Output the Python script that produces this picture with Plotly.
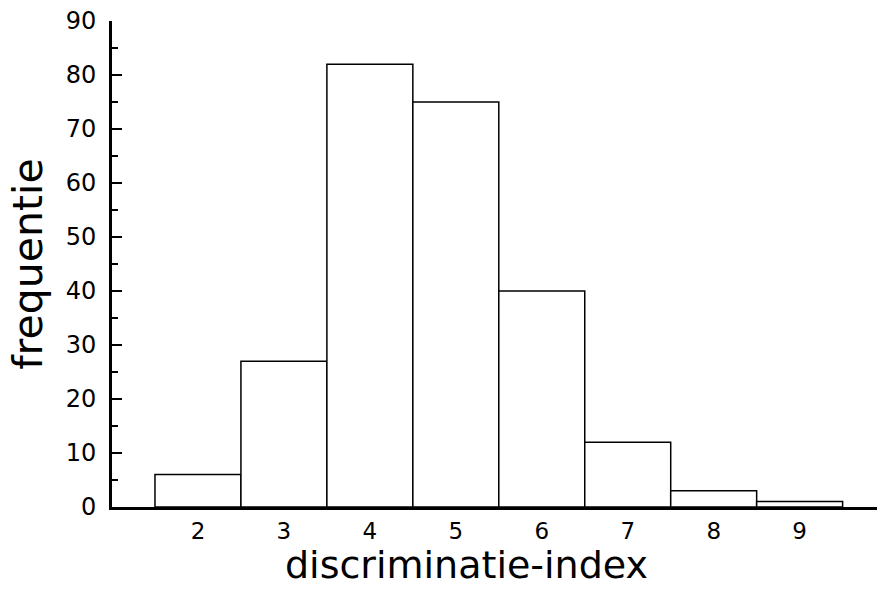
import plotly.graph_objects as go

# Frequency of each discrimination-index value
index_values = [2, 3, 4, 5, 6, 7, 8, 9]
frequencies = [6, 27, 82, 75, 40, 12, 3, 1]

y_ticks = [0, 10, 20, 30, 40, 50, 60, 70, 80, 90]

FONT = "DejaVu Sans"

fig = go.Figure(
    go.Bar(
        x=index_values,
        y=frequencies,
        width=1,
        marker=dict(color="white", line=dict(color="black", width=1.5)),
    )
)

fig.update_layout(
    width=877,
    height=589,
    margin=dict(l=112, r=0, t=21, b=82),
    plot_bgcolor="white",
    paper_bgcolor="white",
    showlegend=False,
    font=dict(family=FONT, color="black", size=23),
    xaxis=dict(
        range=[1, 9.9],
        tickvals=index_values,
        ticktext=[str(v) for v in index_values],
        showline=True,
        linecolor="black",
        linewidth=3,
        ticks="",
        showgrid=False,
        zeroline=False,
        ticklabelstandoff=1,
        tickfont=dict(family=FONT, size=23),
    ),
    yaxis=dict(
        range=[0, 90],
        tickvals=y_ticks,
        showline=True,
        linecolor="black",
        linewidth=3,
        ticks="inside",
        ticklen=10,
        tickwidth=2,
        tickcolor="black",
        minor=dict(dtick=5, ticks="inside", ticklen=6, tickwidth=2, tickcolor="black"),
        showgrid=False,
        zeroline=False,
        ticklabelstandoff=8,
        tickfont=dict(family=FONT, size=24),
    ),
    annotations=[
        dict(
            text="discriminatie-index",
            xref="paper", yref="paper",
            x=0.464, y=-0.12,
            xanchor="center", yanchor="middle",
            showarrow=False,
            font=dict(family=FONT, size=38, color="black"),
        ),
        dict(
            text="frequentie",
            xref="paper", yref="paper",
            x=-0.11, y=0.5,
            xanchor="center", yanchor="middle",
            textangle=-90,
            showarrow=False,
            font=dict(family=FONT, size=41, color="black"),
        ),
    ],
)

fig.write_html("out.html")
